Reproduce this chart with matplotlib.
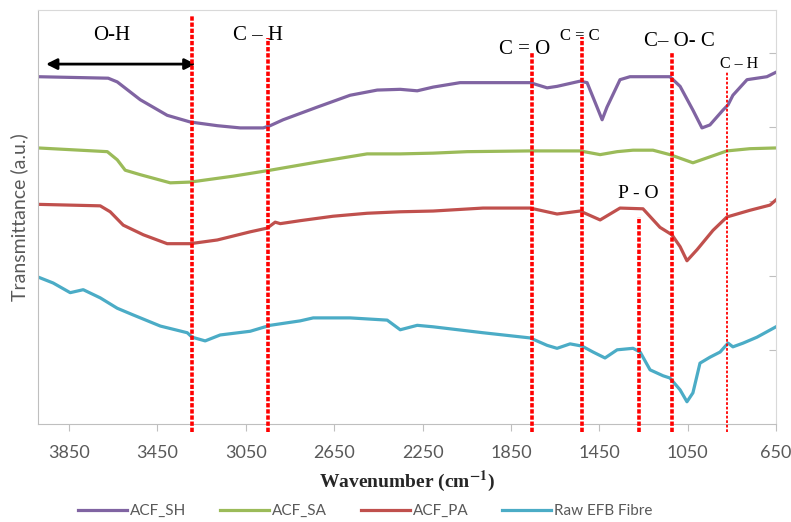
import numpy as np
import matplotlib.pyplot as plt

plt.rcParams['mathtext.fontset'] = 'stix'

# FTIR spectra (wavenumber cm-1, transmittance in arbitrary units)
sh_wn = [3990, 3673, 3632, 3528, 3406, 3302, 3179, 3075, 2971, 2940, 2881, 2727, 2578, 2455,
         2351, 2274, 2202, 2080, 1899, 1763, 1686, 1641, 1537, 1505, 1460, 1437, 1415, 1356,
         1311, 1130, 1084, 1026, 985, 949, 890, 867, 845, 781, 691, 650]
sh_t = [4.68, 4.66, 4.61, 4.37, 4.16, 4.07, 4.02, 3.99, 3.99, 4.02, 4.10, 4.27, 4.43, 4.50,
        4.51, 4.49, 4.54, 4.60, 4.60, 4.60, 4.53, 4.55, 4.62, 4.60, 4.27, 4.10, 4.27, 4.64,
        4.68, 4.68, 4.55, 4.23, 3.99, 4.03, 4.23, 4.30, 4.43, 4.64, 4.68, 4.74]

sa_wn = [3990, 3677, 3632, 3596, 3528, 3392, 3302, 3107, 2940, 2727, 2501, 2351, 2202, 2048,
         1763, 1537, 1446, 1369, 1297, 1207, 1130, 1026, 949, 872, 768, 650]
sa_t = [3.72, 3.67, 3.56, 3.42, 3.36, 3.25, 3.26, 3.34, 3.42, 3.53, 3.64, 3.64, 3.65, 3.67,
        3.68, 3.68, 3.63, 3.67, 3.69, 3.69, 3.63, 3.52, 3.60, 3.68, 3.71, 3.72]

pa_wn = [3990, 3709, 3664, 3605, 3514, 3406, 3302, 3179, 3030, 2953, 2917, 2894, 2804, 2655,
         2501, 2351, 2202, 1976, 1763, 1641, 1537, 1446, 1356, 1252, 1175, 1121, 1084, 1053,
         1007, 935, 872, 768, 677, 650]
pa_t = [2.96, 2.94, 2.86, 2.68, 2.55, 2.43, 2.43, 2.48, 2.59, 2.64, 2.72, 2.70, 2.74, 2.80,
        2.84, 2.86, 2.87, 2.91, 2.91, 2.83, 2.87, 2.75, 2.91, 2.90, 2.65, 2.55, 2.39, 2.20,
        2.35, 2.61, 2.79, 2.88, 2.95, 3.02]

raw_wn = [3990, 3922, 3845, 3786, 3709, 3632, 3560, 3437, 3315, 3293, 3234, 3166, 3030, 2940,
          2804, 2745, 2578, 2410, 2351, 2274, 2202, 1976, 1763, 1686, 1641, 1582, 1528, 1478,
          1424, 1369, 1297, 1265, 1220, 1161, 1130, 1084, 1053, 1026, 994, 949, 903, 867, 845,
          799, 736, 650]
raw_t = [1.98, 1.90, 1.77, 1.81, 1.70, 1.56, 1.47, 1.32, 1.23, 1.17, 1.12, 1.20, 1.25, 1.33,
         1.39, 1.43, 1.43, 1.40, 1.27, 1.33, 1.31, 1.23, 1.16, 1.06, 1.02, 1.08, 1.05, 0.97,
         0.89, 1.00, 1.02, 0.97, 0.73, 0.65, 0.62, 0.46, 0.30, 0.42, 0.82, 0.90, 0.97, 1.09,
         1.04, 1.09, 1.17, 1.31]

# band markers: position, top of line
band_wn = [3294, 2949, 1755, 1528, 1270, 1122, 873]
band_top = [5.51, 5.20, 5.01, 5.22, 2.79, 5.01, 4.74]

xticks = [3850, 3450, 3050, 2650, 2250, 1850, 1450, 1050, 650]

fig = plt.figure(figsize=(7.91, 5.22), dpi=100)
ax = fig.add_axes([0.0477, 0.1877, 0.9333, 0.7933])

ax.plot(sh_wn, sh_t, color='#8064A2', lw=2.3, label='ACF_SH')
ax.plot(sa_wn, sa_t, color='#9BBB59', lw=2.3, label='ACF_SA')
ax.plot(pa_wn, pa_t, color='#C0504D', lw=2.3, label='ACF_PA')
ax.plot(raw_wn, raw_t, color='#4BACC6', lw=2.3, label='Raw EFB Fibre')

for i, (w, top) in enumerate(zip(band_wn, band_top)):
    thin = (i == len(band_wn) - 1)
    ax.plot([w, w], [-0.11, top], color='#FF0000', lw=1.3 if thin else 2.6,
            ls=(0, (1.5, 1.0)) if thin else (0, (1.2, 0.5)), clip_on=False, zorder=5)

serif = 'Liberation Serif'
ax.text(3659, 5.24, 'O-H', fontsize=15, family=serif, ha='center', va='center')
ax.text(2994, 5.24, 'C – H', fontsize=15, family=serif, ha='center', va='center')
ax.text(1786, 5.04, 'C = O', fontsize=15, family=serif, ha='center', va='center')
ax.text(1537, 5.23, 'C = C', fontsize=12, family=serif, ha='center', va='center')
ax.text(1089, 5.15, 'C– O- C', fontsize=15, family=serif, ha='center', va='center')
ax.text(817, 4.85, 'C – H', fontsize=11.5, family=serif, ha='center', va='center')
ax.text(1274, 3.10, 'P - O', fontsize=14, family=serif, ha='center', va='center')

ax.annotate('', xy=(3967, 4.85), xytext=(3265, 4.85),
            arrowprops=dict(arrowstyle='<|-|>', color='black', lw=2, mutation_scale=16))

ax.set_xlim(3992, 650)
ax.set_ylim(0, 5.58)
ax.set_xticks(xticks)
ax.set_xticklabels([str(t) for t in xticks], fontsize=13, color='#595959', family='Lato')
ax.tick_params(axis='x', direction='out', length=5, color='#BFBFBF', pad=10)

ax.yaxis.tick_right()
ax.set_yticks([1, 2, 3, 4, 5])
ax.set_yticklabels([])
ax.tick_params(axis='y', direction='in', length=5, color='#BFBFBF')

for side in ['left', 'bottom']:
    ax.spines[side].set_color('#BFBFBF')
for side in ['top', 'right']:
    ax.spines[side].set_color('#D9D9D9')

ax.set_xlabel('Wavenumber (cm$^{\\mathbf{-1}}$)', fontsize=14, family=serif,
              fontweight='bold', color='#262626', labelpad=6)
fig.text(0.024, 0.584, 'Transmittance (a.u.)', rotation=90, fontsize=14, family='Lato',
         color='#595959', ha='center', va='center')

fig.legend(loc='center', bbox_to_anchor=(0.462, 0.021), ncol=4, frameon=False,
           prop={'family': 'Lato', 'size': 11}, labelcolor='#595959',
           handlelength=3.2, handletextpad=0.2, columnspacing=2.2)

fig.savefig('out.png', dpi=100)
